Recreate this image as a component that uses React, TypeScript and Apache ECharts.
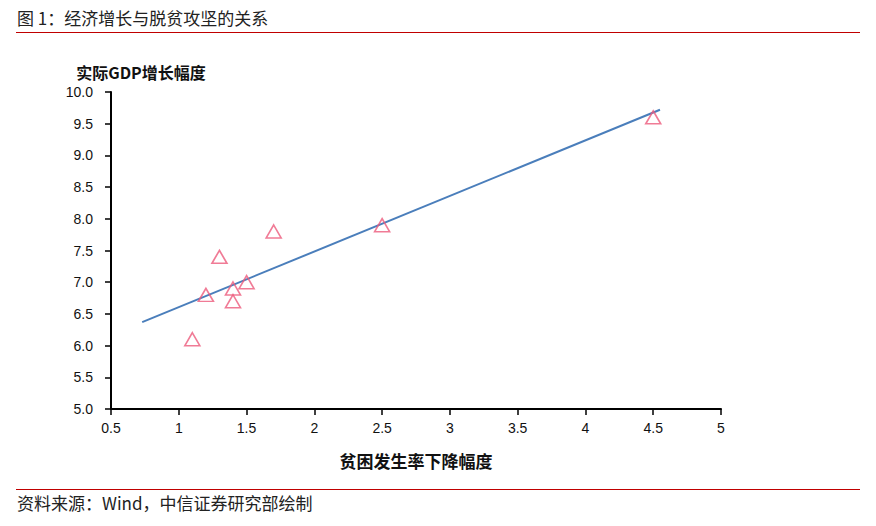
import { useEffect, useRef } from "react";
import * as echarts from "echarts";

// 贫困发生率下降幅度 (x) / 实际GDP增长幅度 (y)
const povertyDrop = [1.1, 1.2, 1.3, 1.4, 1.4, 1.5, 1.7, 2.5, 4.5];
const gdpGrowth = [6.1, 6.8, 7.4, 6.9, 6.7, 7.0, 7.8, 7.9, 9.6];
// trend line end points
const trendX = [0.73, 4.55];
const trendY = [6.37, 9.72];

const FONT = "'Liberation Sans Narrow', 'Liberation Sans', Arial, 'Noto Sans CJK SC', sans-serif";
const CJK = "'Noto Sans CJK SC', 'Liberation Sans', sans-serif";

export default function App(): JSX.Element {
  const chartRef = useRef<HTMLDivElement>(null);

  useEffect(() => {
    const chart = echarts.init(chartRef.current, null, { renderer: "svg" });
    const option = {
      animation: false,
      backgroundColor: "#fff",
      grid: { left: 111, right: 155, top: 92, bottom: 117 },
      graphic: [
        {
          type: "text",
          left: 17,
          top: 9,
          style: { text: "图 1：经济增长与脱贫攻坚的关系", font: `17px ${CJK}`, fill: "#222" },
        },
        {
          type: "line",
          shape: { x1: 16, y1: 32.5, x2: 860, y2: 32.5 },
          style: { stroke: "#c00000", lineWidth: 1 },
        },
        {
          type: "line",
          shape: { x1: 16, y1: 489.5, x2: 860, y2: 489.5 },
          style: { stroke: "#c00000", lineWidth: 1 },
        },
        {
          type: "text",
          left: 17,
          top: 494,
          style: { text: "资料来源：Wind，中信证券研究部绘制", font: `17px ${CJK}`, fill: "#222" },
        },
      ],
      xAxis: {
        type: "value",
        min: 0.5,
        max: 5,
        interval: 0.5,
        name: "贫困发生率下降幅度",
        nameLocation: "middle",
        nameGap: 43,
        nameTextStyle: { fontFamily: CJK, fontSize: 17, fontWeight: "bold", color: "#111" },
        splitLine: { show: false },
        axisLine: { lineStyle: { color: "#000", width: 2 } },
        axisTick: { show: true, length: 6, inside: false, lineStyle: { color: "#000", width: 1.5 } },
        axisLabel: { fontFamily: FONT, fontSize: 14, color: "#111", margin: 12 },
      },
      yAxis: {
        type: "value",
        min: 5,
        max: 10,
        interval: 0.5,
        name: "实际GDP增长幅度",
        nameLocation: "end",
        nameGap: 12,
        nameTextStyle: {
          fontFamily: CJK,
          fontSize: 16,
          fontWeight: "bold",
          color: "#111",
          align: "center",
          padding: [0, 0, 0, 60],
        },
        splitLine: { show: false },
        axisLine: { show: true, lineStyle: { color: "#000", width: 2 } },
        axisTick: { show: true, length: 6, inside: false, lineStyle: { color: "#000", width: 1.5 } },
        axisLabel: {
          fontFamily: FONT,
          fontSize: 14,
          color: "#111",
          margin: 18,
          formatter: (v: number) => v.toFixed(1),
        },
      },
      series: [
        {
          type: "line",
          data: trendX.map((x, i) => [x, trendY[i]]),
          symbol: "none",
          lineStyle: { color: "#4a7ebb", width: 2 },
          z: 2,
        },
        {
          type: "scatter",
          data: povertyDrop.map((x, i) => [x, gdpGrowth[i]]),
          symbol: "triangle",
          symbolSize: [15, 13],
          itemStyle: { color: "rgba(255,255,255,0)", borderColor: "#ec5a7c", borderWidth: 1.6 },
          z: 3,
        },
      ],
    };
    chart.setOption(option);
    return () => {
      chart.dispose();
    };
  }, []);

  return (
    <div
      ref={chartRef}
      style={{ position: "absolute", left: 0, top: 0, width: 876, height: 526 }}
    ></div>
  );
}
